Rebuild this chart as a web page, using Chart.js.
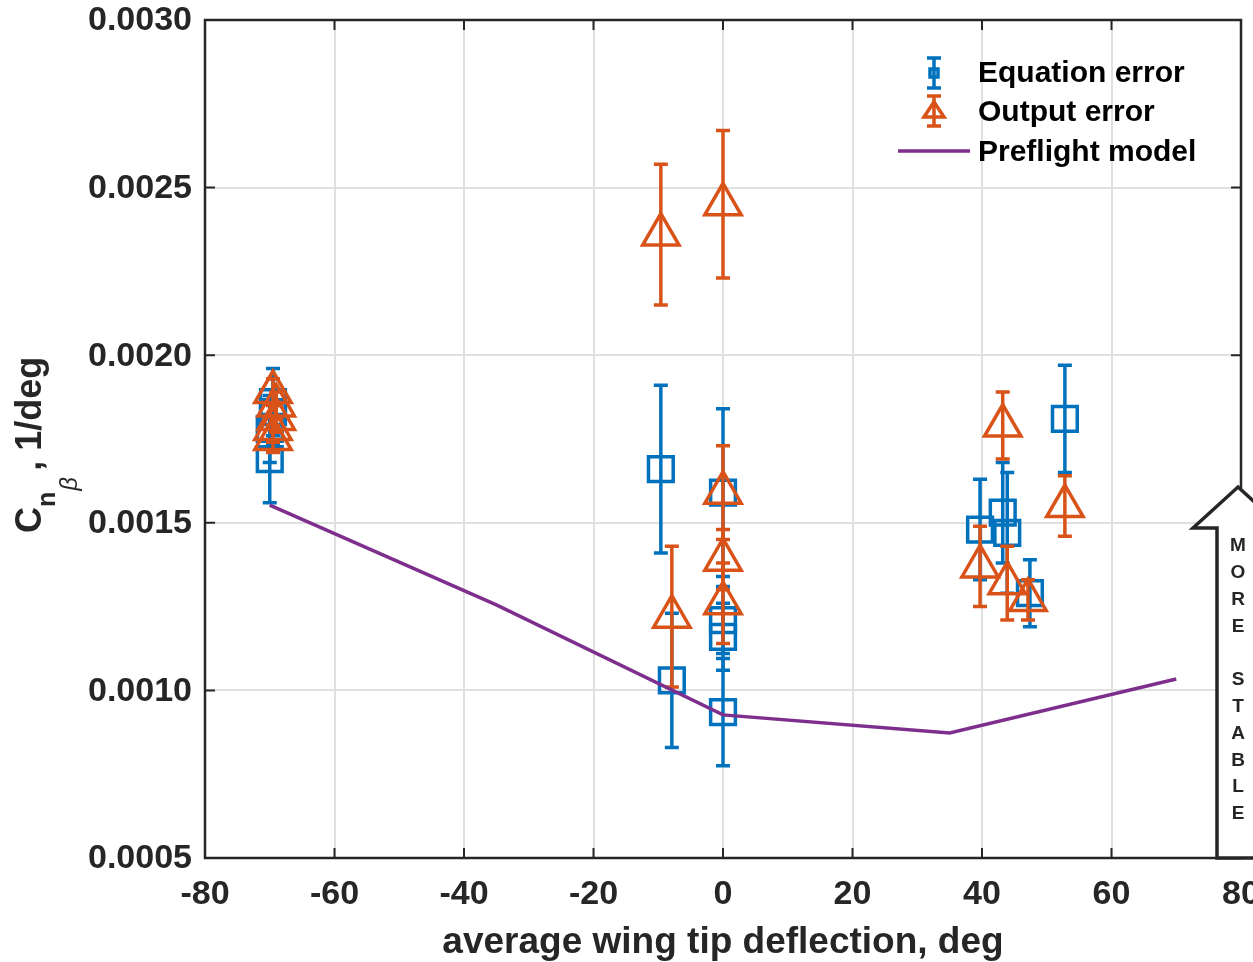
<!DOCTYPE html>
<html>
<head>
<meta charset="utf-8">
<script src="https://cdn.jsdelivr.net/npm/chart.js@4.4.0/dist/chart.umd.min.js"></script>
<style>
  html, body { margin: 0; padding: 0; background: #fff; }
  #wrap { width: 1253px; height: 962px; position: relative; }
</style>
</head>
<body>
<div id="wrap"><canvas id="chart"></canvas></div>
<script>
const FONT = '"Liberation Sans", Arial, Helvetica, sans-serif';

const xTicks = [-80, -60, -40, -20, 0, 20, 40, 60, 80];
const yTicks = [0.0005, 0.0010, 0.0015, 0.0020, 0.0025, 0.0030];

// equation error estimates (blue squares)
const eqX = [-70, -70, -69.5, -69.5, -9.6, -7.9, 0, 0, 0, 0, 39.7, 43.2, 43.9, 47.4, 52.8];
const eqY = [0.00169, 0.00178, 0.00183, 0.00186, 0.00166, 0.00103, 0.00159, 0.00121, 0.00116, 0.000935,
             0.00148, 0.00153, 0.00147, 0.00129, 0.00181];
const eqErr = [0.00013, 0.0001, 0.0001, 0.0001, 0.00025, 0.0002, 0.00025, 0.0001, 0.0001, 0.00016,
               0.00015, 0.00015, 0.00018, 0.0001, 0.00016];

// output error estimates (orange triangles)
const oeX = [-69.5, -69.5, -69, -69, -69.5, -9.6, 0, -7.9, 0, 0, 0, 43.2, 39.7, 43.9, 47.1, 52.8];
const oeY = [0.00175, 0.00178, 0.00181, 0.00185, 0.00189, 0.00236, 0.00245, 0.00122, 0.00159, 0.00139, 0.00126,
             0.00179, 0.00137, 0.00132, 0.00127, 0.00155];
const oeErr = [0.00004, 0.00004, 0.00004, 0.00004, 0.00004, 0.00021, 0.00022, 0.00021, 0.00014, 0.00009, 0.00012,
               0.0001, 0.00012, 0.00011, 0.00006, 0.00009];

// preflight model
const modelX = [-70, -35, 0, 35, 70];
const modelY = [0.001553, 0.001255, 0.000927, 0.000873, 0.001034];

const BLUE = '#0072BD';
const ORANGE = '#D95319';
const PURPLE = '#7E2F8E';
const AXIS = '#262626';

const toPts = (xs, ys) => xs.map((x, i) => ({ x: x, y: ys[i] }));

// error bars drawn under each dataset's markers
const errorBars = {
  id: 'errorBars',
  beforeDatasetDraw(chart, args) {
    const ds = chart.data.datasets[args.index];
    if (!ds.errors) return;
    const ctx = chart.ctx, xs = chart.scales.x, ys = chart.scales.y;
    ctx.save();
    ctx.strokeStyle = ds.borderColor;
    ctx.lineWidth = 3.5;
    ds.data.forEach((p, i) => {
      const px = xs.getPixelForValue(p.x);
      const top = ys.getPixelForValue(p.y + ds.errors[i]);
      const bot = ys.getPixelForValue(p.y - ds.errors[i]);
      ctx.beginPath();
      ctx.moveTo(px, top); ctx.lineTo(px, bot);
      ctx.moveTo(px - 7, top); ctx.lineTo(px + 7, top);
      ctx.moveTo(px - 7, bot); ctx.lineTo(px + 7, bot);
      ctx.stroke();
    });
    ctx.restore();
  }
};

// box around the axes with inward ticks, matlab style, plus tick labels
const axesBox = {
  id: 'axesBox',
  beforeDatasetsDraw(chart) {
    const ctx = chart.ctx, a = chart.chartArea;
    const xs = chart.scales.x, ys = chart.scales.y;
    ctx.save();
    ctx.strokeStyle = AXIS;
    ctx.lineWidth = 2.5;
    ctx.strokeRect(a.left, a.top, a.right - a.left, a.bottom - a.top);
    ctx.lineWidth = 2;
    ctx.beginPath();
    xTicks.forEach(v => {
      const px = xs.getPixelForValue(v);
      ctx.moveTo(px, a.bottom); ctx.lineTo(px, a.bottom - 10);
      ctx.moveTo(px, a.top); ctx.lineTo(px, a.top + 10);
    });
    yTicks.forEach(v => {
      const py = ys.getPixelForValue(v);
      ctx.moveTo(a.left, py); ctx.lineTo(a.left + 10, py);
      ctx.moveTo(a.right, py); ctx.lineTo(a.right - 10, py);
    });
    ctx.stroke();

    ctx.fillStyle = AXIS;
    ctx.font = 'bold 34px ' + FONT;
    ctx.textBaseline = 'middle';
    ctx.textAlign = 'center';
    xTicks.forEach(v => ctx.fillText(String(v), xs.getPixelForValue(v), a.bottom + 37));
    ctx.textAlign = 'right';
    yTicks.forEach(v => ctx.fillText(v.toFixed(4), a.left - 13, ys.getPixelForValue(v) + 1));
    ctx.restore();
  }
};

// y title with nested subscripts, legend, and the "more stable" arrow
const extras = {
  id: 'extras',
  afterDraw(chart) {
    const ctx = chart.ctx, a = chart.chartArea;

    // y axis title
    ctx.save();
    ctx.fillStyle = AXIS;
    ctx.textBaseline = 'alphabetic';
    ctx.translate(41, 533);
    ctx.rotate(-Math.PI / 2);
    ctx.font = 'bold 36px ' + FONT;
    ctx.fillText('C', 0, 0);
    let adv = ctx.measureText('C').width;
    ctx.font = 'bold 25px ' + FONT;
    ctx.fillText('n', adv, 14);
    adv += ctx.measureText('n').width;
    ctx.font = 'italic 24px ' + FONT;
    ctx.fillText('\u03B2', adv + 1, 36);
    ctx.font = 'bold 36px ' + FONT;
    ctx.fillText(', 1/deg', adv + 21, 0);
    ctx.restore();

    // legend
    ctx.save();
    const lx = a.right - 307, ly = a.top + 53;
    ctx.lineWidth = 3.5;
    // equation error icon
    ctx.strokeStyle = BLUE;
    ctx.beginPath();
    ctx.moveTo(lx, ly - 15); ctx.lineTo(lx, ly + 15);
    ctx.moveTo(lx - 7, ly - 15); ctx.lineTo(lx + 7, ly - 15);
    ctx.moveTo(lx - 7, ly + 15); ctx.lineTo(lx + 7, ly + 15);
    ctx.stroke();
    ctx.strokeRect(lx - 4, ly - 4, 8, 8);
    // output error icon
    ctx.strokeStyle = ORANGE;
    const oy = ly + 38;
    ctx.beginPath();
    ctx.moveTo(lx, oy - 15); ctx.lineTo(lx, oy + 15);
    ctx.moveTo(lx - 7, oy - 15); ctx.lineTo(lx + 7, oy - 15);
    ctx.moveTo(lx - 7, oy + 15); ctx.lineTo(lx + 7, oy + 15);
    ctx.stroke();
    ctx.beginPath();
    ctx.moveTo(lx, oy - 9); ctx.lineTo(lx + 10, oy + 6); ctx.lineTo(lx - 10, oy + 6); ctx.closePath();
    ctx.stroke();
    // preflight model icon
    ctx.strokeStyle = PURPLE;
    ctx.beginPath();
    ctx.moveTo(lx - 36, ly + 78); ctx.lineTo(lx + 36, ly + 78);
    ctx.stroke();
    ctx.fillStyle = '#000';
    ctx.font = 'bold 30px ' + FONT;
    ctx.textBaseline = 'middle';
    ctx.fillText('Equation error', lx + 44, ly + 1);
    ctx.fillText('Output error', lx + 44, ly + 40);
    ctx.fillText('Preflight model', lx + 44, ly + 80);
    ctx.restore();

    // arrow annotation
    ctx.save();
    const cx = a.right - 3, tipY = 487, wingY = 528, bot = a.bottom;
    ctx.beginPath();
    ctx.moveTo(cx, tipY);
    ctx.lineTo(cx + 45, wingY);
    ctx.lineTo(cx + 21, wingY);
    ctx.lineTo(cx + 21, bot);
    ctx.lineTo(cx - 21, bot);
    ctx.lineTo(cx - 21, wingY);
    ctx.lineTo(cx - 45, wingY);
    ctx.closePath();
    ctx.fillStyle = '#fff';
    ctx.fill();
    ctx.strokeStyle = AXIS;
    ctx.lineWidth = 3.5;
    ctx.lineJoin = 'miter';
    ctx.stroke();
    ctx.fillStyle = AXIS;
    ctx.font = 'bold 19px ' + FONT;
    ctx.textAlign = 'center';
    ctx.textBaseline = 'middle';
    const letters = ['M', 'O', 'R', 'E', '', 'S', 'T', 'A', 'B', 'L', 'E'];
    letters.forEach((ch, i) => ctx.fillText(ch, cx, 546 + i * 26.8));
    ctx.restore();
  }
};

const ctx = document.getElementById('chart').getContext('2d');

const chart = new Chart(ctx, {
  type: 'scatter',
  data: {
    datasets: [{
      label: 'Equation error',
      data: toPts(eqX, eqY),
      errors: eqErr,
      pointStyle: 'rect',
      pointRadius: 17.5,
      borderWidth: 3.5,
      borderColor: BLUE,
      backgroundColor: 'rgba(0,0,0,0)',
      order: 3
    }, {
      label: 'Output error',
      data: toPts(oeX, oeY),
      errors: oeErr,
      pointStyle: 'triangle',
      pointRadius: 21,
      borderWidth: 3.5,
      borderColor: ORANGE,
      backgroundColor: 'rgba(0,0,0,0)',
      order: 2
    }, {
      label: 'Preflight model',
      data: toPts(modelX, modelY),
      showLine: true,
      pointRadius: 0,
      borderWidth: 3.5,
      borderColor: PURPLE,
      backgroundColor: PURPLE,
      order: 1
    }]
  },
  options: {
    responsive: true,
    maintainAspectRatio: false,
    animation: false,
    events: [],
    layout: { autoPadding: false, padding: { top: 20, right: 12, left: 0, bottom: 0 } },
    plugins: {
      legend: { display: false },
      tooltip: { enabled: false }
    },
    scales: {
      x: {
        type: 'linear',
        min: xTicks[0],
        max: xTicks[xTicks.length - 1],
        afterBuildTicks: s => { s.ticks = xTicks.map(v => ({ value: v })); },
        afterFit: s => { s.height = 104; },
        ticks: { display: false },
        grid: { color: '#e0e0e0', lineWidth: 2, drawTicks: false },
        border: { display: false },
        title: {
          display: true,
          text: 'average wing tip deflection, deg',
          color: AXIS,
          font: { family: FONT, size: 37, weight: 'bold' },
          padding: { top: 0, bottom: -3 }
        }
      },
      y: {
        type: 'linear',
        min: yTicks[0],
        max: yTicks[yTicks.length - 1],
        afterBuildTicks: s => { s.ticks = yTicks.map(v => ({ value: v })); },
        afterFit: s => { s.width = 205; },
        ticks: { display: false },
        grid: { color: '#e0e0e0', lineWidth: 2, drawTicks: false },
        border: { display: false }
      }
    }
  },
  plugins: [errorBars, axesBox, extras]
});
</script>
</body>
</html>
